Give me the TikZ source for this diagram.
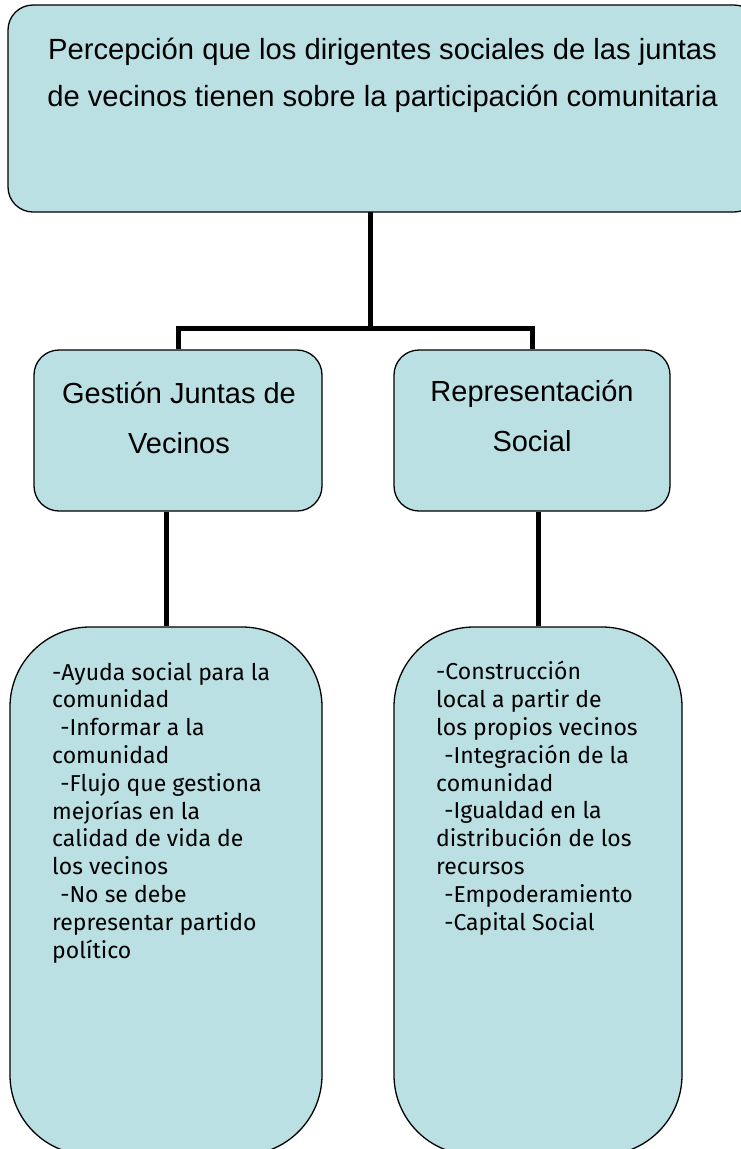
\documentclass[tikz,border=0pt]{standalone}
\usepackage{fontspec}
\setmainfont{Liberation Sans}
\newfontfamily\listfont{Fira Sans}
\definecolor{boxfill}{RGB}{186,224,227}
\begin{document}
\begin{tikzpicture}[x=1pt,y=-1pt,
  box/.style={draw=black, line width=1.3pt, fill=boxfill, rounded corners=25pt, inner sep=0pt},
  pill/.style={box, rounded corners=80pt},
  conn/.style={draw=black, line width=5pt},
  headtext/.style={align=center, inner sep=0pt, anchor=base},
  items/.style={font=\listfont\fontsize{23}{27.8}\selectfont, align=left, anchor=base west, inner sep=0pt}]
\clip (0,0) rectangle (741,1149);
\fill[white] (0,0) rectangle (741,1149);
% boxes
\node[box, minimum width=751pt, minimum height=207pt] (top) at (383.5,108.5) {};
\node[box, minimum width=288pt, minimum height=161pt] (mid1) at (178,430.5) {};
\node[box, minimum width=276pt, minimum height=161pt] (mid2) at (532,430.5) {};
\node[pill, minimum width=312pt, minimum height=528pt] (bot1) at (166,891) {};
\node[pill, minimum width=288pt, minimum height=528pt] (bot2) at (538,891) {};
% connectors
\coordinate (j) at (370,328);
\coordinate (jt) at (370,212);
\draw[conn] (jt) -- (j);
\draw[conn] (j) -| (mid1.north);
\draw[conn] (j) -| (mid2.north);
\draw[conn] (mid1.south -| bot1.north) -- (bot1.north);
\draw[conn] (mid2.south -| bot2.north) -- (bot2.north);
% texts
\node[headtext, font=\fontsize{29.2}{47}\selectfont] (toptext) at (382.5,106) {Percepción que los dirigentes sociales de las juntas\\de vecinos tienen sobre la participación comunitaria};
\node[headtext, font=\fontsize{29}{50}\selectfont] (mid1text) at (179,453) {Gestión Juntas de\\Vecinos};
\node[headtext, font=\fontsize{29}{50}\selectfont] (mid2text) at (532,451) {Representación\\Social};
\node[items] (bot1text) at (52,958) {-Ayuda social para la\\comunidad\\\hspace*{0.35em}-Informar a la\\comunidad\\\hspace*{0.35em}-Flujo que gestiona\\mejorías en la\\calidad de vida de\\los vecinos\\\hspace*{0.35em}-No se debe\\representar partido\\político};
\node[items] (bot2text) at (436,930) {-Construcción\\local a partir de\\los propios vecinos\\\hspace*{0.35em}-Integración de la\\comunidad\\\hspace*{0.35em}-Igualdad en la\\distribución de los\\recursos\\\hspace*{0.35em}-Empoderamiento\\\hspace*{0.35em}-Capital Social};
\end{tikzpicture}
\end{document}
